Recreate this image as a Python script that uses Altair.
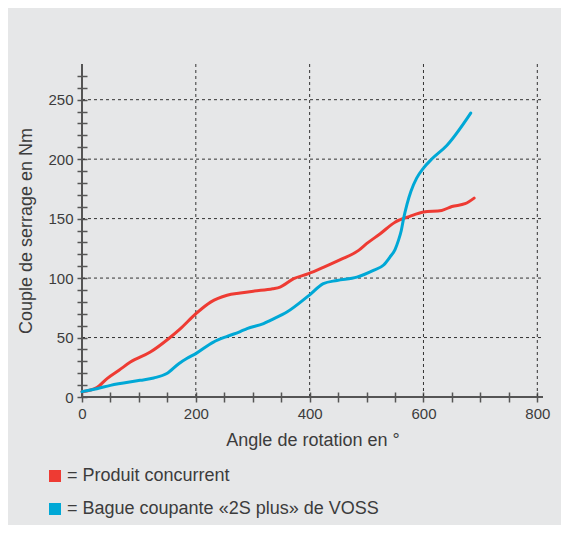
import altair as alt
import pandas as pd

# ---- data ----
red_x = [0, 26, 44, 65, 85, 120, 152, 173, 200, 226, 255, 278, 301, 335, 348, 372, 398, 425, 454, 486, 500, 524, 550, 576, 600, 632, 650, 673, 689]
red_y = [4.5, 7.9, 15.5, 22.5, 29.4, 37.8, 49, 57.5, 70, 79.8, 85.5, 87.4, 89, 91, 92.4, 99.5, 103.7, 109.2, 115.5, 123.3, 128.9, 137.3, 147, 151.9, 155.5, 156.9, 160.2, 162.5, 167.2]

blue_x = [0, 26, 50, 102, 126, 149, 170, 184, 200, 231, 255, 278, 290, 319, 331, 360, 399, 424, 448, 483, 512, 530, 541, 550, 556, 561, 565, 571, 578, 588, 600, 615, 641, 683]
blue_y = [4.5, 7, 9.8, 14, 16, 19.7, 28, 32.3, 36.5, 46.2, 51, 55, 57.5, 61.7, 64.5, 71.4, 85.5, 95.3, 98, 100.8, 106.5, 111, 117.6, 124, 131.7, 140, 150, 162, 173, 184, 192.5, 200.3, 211.5, 238.7]

series_names = ["= Produit concurrent", "= Bague coupante «2S plus» de VOSS"]
series_colors = ["#EE3B33", "#00A8D6"]

x_grid_values = [200, 400, 600, 800]
y_grid_values = [50, 100, 150, 200, 250]
x_tick_values = list(range(0, 801, 50))
y_tick_values = list(range(0, 271, 10))

X_DOMAIN = [0, 810]
Y_DOMAIN = [0, 280]

df_red = pd.DataFrame({"angle": red_x, "couple": red_y, "series": series_names[0]})
df_blue = pd.DataFrame({"angle": blue_x, "couple": blue_y, "series": series_names[1]})
df_xgrid = pd.DataFrame({"angle": x_grid_values})
df_ygrid = pd.DataFrame({"couple": y_grid_values})
df_one = pd.DataFrame({"a": [0]})

FONT = "Liberation Sans"
TXT = "#3c3c3c"
AX = "#555555"

xs = alt.Scale(domain=X_DOMAIN, nice=False, zero=False)
ys = alt.Scale(domain=Y_DOMAIN, nice=False, zero=False)
cs = alt.Scale(domain=series_names, range=series_colors)

X_TITLE = "Angle de rotation en °"
Y_TITLE = "Couple de serrage en Nm"

x_axis = alt.Axis(
    values=x_tick_values,
    labelExpr="datum.value % 200 == 0 ? datum.label : ''",
    offset=-5, tickSize=10, tickWidth=1.5, tickColor=AX,
    domain=False, grid=False, labelFlush=False,
    labelFont=FONT, labelFontSize=15, labelColor=TXT, labelPadding=4,
    titleFont=FONT, titleFontSize=18,
    titleFontWeight="normal", titleColor=TXT, titlePadding=10,
)
y_axis = alt.Axis(
    values=y_tick_values,
    labelExpr="datum.value % 50 == 0 ? datum.label : ''",
    offset=-5, tickSize=10, tickWidth=1.5, tickColor=AX,
    domain=False, grid=False, labelFlush=False,
    labelFont=FONT, labelFontSize=15, labelColor=TXT, labelPadding=4,
    titleFont=FONT, titleFontSize=18,
    titleFontWeight="normal", titleColor=TXT, titlePadding=12,
)

legend = alt.Legend(
    orient="none", legendX=-36, legendY=403, direction="vertical",
    symbolType="square", symbolSize=36, symbolStrokeWidth=6,
    labelFont=FONT, labelFontSize=18, labelColor=TXT, labelOffset=3,
    rowPadding=3, labelLimit=500,
)


def X(**kw):
    return alt.X(scale=xs, axis=x_axis, title=X_TITLE, **kw)


def Y(**kw):
    return alt.Y(scale=ys, axis=y_axis, title=Y_TITLE, **kw)


vgrid = alt.Chart(df_xgrid).mark_rule(strokeDash=[3, 3], color="#333333", strokeWidth=1).encode(
    x=X(field="angle", type="quantitative"),
    y=Y(datum=Y_DOMAIN[0]),
    y2=alt.datum(Y_DOMAIN[1]),
)
hgrid = alt.Chart(df_ygrid).mark_rule(strokeDash=[3, 3], color="#333333", strokeWidth=1).encode(
    y=Y(field="couple", type="quantitative"),
    x=X(datum=X_DOMAIN[0]),
    x2=alt.datum(X_DOMAIN[1]),
)
xline = alt.Chart(df_one).mark_rule(color=AX, strokeWidth=2).encode(
    y=Y(datum=0),
    x=X(datum=X_DOMAIN[0]),
    x2=alt.datum(X_DOMAIN[1]),
)
yline = alt.Chart(df_one).mark_rule(color=AX, strokeWidth=2).encode(
    x=X(datum=0),
    y=Y(datum=Y_DOMAIN[0]),
    y2=alt.datum(Y_DOMAIN[1]),
)


def line_layer(df):
    return alt.Chart(df).mark_line(strokeWidth=3, interpolate="monotone", strokeCap="round").encode(
        x=X(field="angle", type="quantitative"),
        y=Y(field="couple", type="quantitative"),
        color=alt.Color("series:N", scale=cs, legend=legend, title=None),
    )


chart = alt.layer(
    vgrid, hgrid, xline, yline, line_layer(df_red), line_layer(df_blue)
).properties(
    width=461,
    height=333,
    autosize=alt.AutoSizeParams(type="none"),
    padding={"left": 74, "top": 56, "right": 18, "bottom": 128},
).configure(
    background="#e6e7e8",
).configure_view(
    stroke=None,
)

chart.save("out.html", embed_options={"renderer": "svg", "actions": False})
